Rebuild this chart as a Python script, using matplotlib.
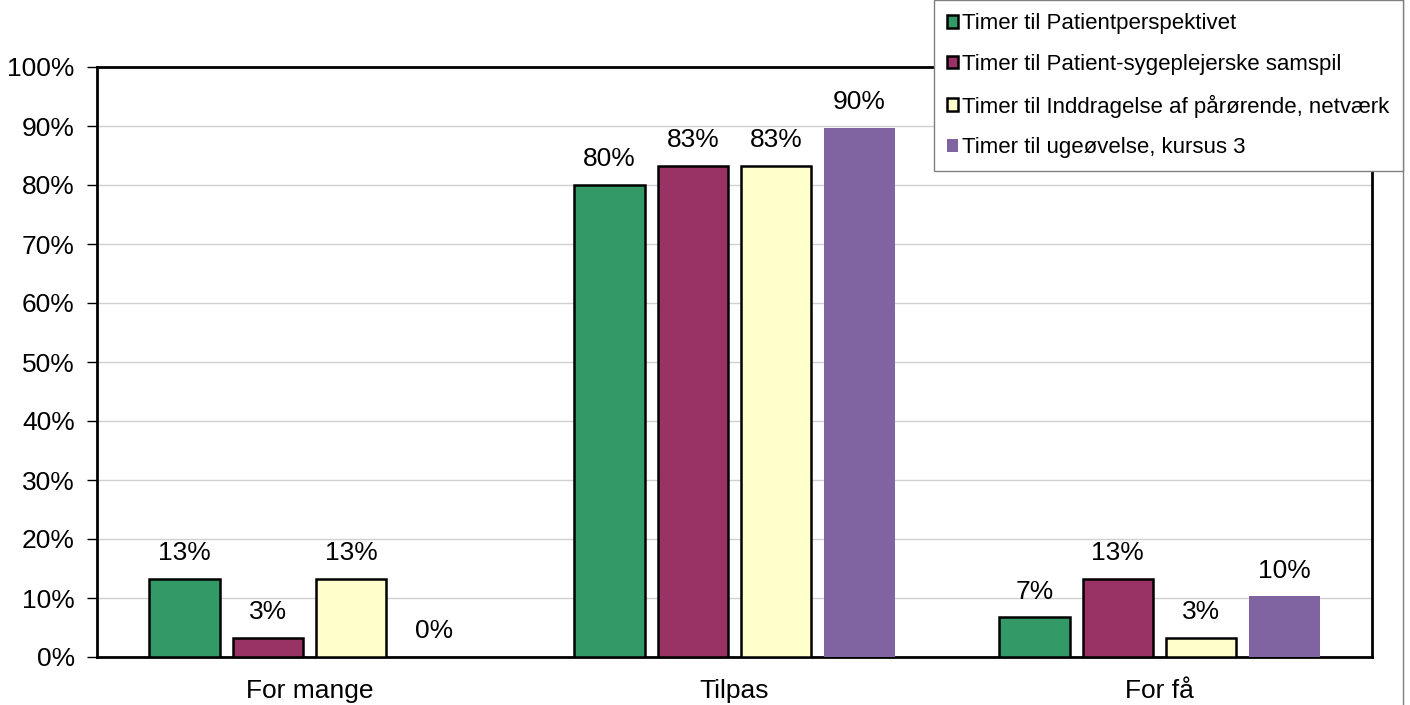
import numpy as np
import matplotlib.pyplot as plt
from matplotlib.patches import Patch
from matplotlib.lines import Line2D

plt.rcParams['font.family'] = ['Liberation Sans', 'DejaVu Sans']

categories = ["For mange", "Tilpas", "For få"]
series_names = [
    "Timer til Patientperspektivet",
    "Timer til Patient-sygeplejerske samspil",
    "Timer til Inddragelse af pårørende, netværk",
    "Timer til ugeøvelse, kursus 3",
]
patientperspektivet = [13.3, 80.0, 6.7]
samspil = [3.3, 83.3, 13.3]
paarorende = [13.3, 83.3, 3.3]
ugeovelse = [0.0, 89.7, 10.3]
labels = [
    ["13%", "80%", "7%"],
    ["3%", "83%", "13%"],
    ["13%", "83%", "3%"],
    ["0%", "90%", "10%"],
]
colors = ["#339966", "#993366", "#FFFFCC", "#8064A2"]
edges = ["black", "black", "black", "none"]

values = [patientperspektivet, samspil, paarorende, ugeovelse]

fig = plt.figure(figsize=(14.1, 7.05), dpi=100)
ax = fig.add_axes([97 / 1410, 48 / 705, 1275 / 1410, 590 / 705])

x = np.arange(len(categories))
step = 0.196
width = 0.165
for i, (vals, col, ec) in enumerate(zip(values, colors, edges)):
    pos = x + (i - 1.5) * step
    ax.bar(pos, vals, width=width, color=col, edgecolor=ec, linewidth=1.8, zorder=3)
    for p, v, lab in zip(pos, vals, labels[i]):
        ax.text(p, v + 2.3, lab, ha='center', va='bottom', fontsize=19)

ax.set_xlim(-0.5, 2.5)
ax.set_ylim(0, 100)
ax.set_yticks(np.arange(0, 101, 10))
ax.set_yticklabels([f"{t}%" for t in range(0, 101, 10)], fontsize=19)
ax.set_xticks(x)
ax.set_xticklabels(categories, fontsize=19)
ax.tick_params(axis='x', length=0, pad=16)
ax.tick_params(axis='y', length=7, width=1, pad=9)
ax.yaxis.grid(True, color='#d0d0d0', linewidth=1, zorder=0)
ax.set_axisbelow(True)
for s in ax.spines.values():
    s.set_linewidth(2)
    s.set_color('black')

handles = [Patch(facecolor=c, edgecolor=e, linewidth=1.8) for c, e in zip(colors, edges)]
leg = fig.legend(handles, series_names, loc='upper right',
                 bbox_to_anchor=(1403 / 1410, 1.0),
                 fontsize=16, frameon=True, fancybox=False, framealpha=1,
                 handlelength=0.5, handleheight=0.5, handletextpad=0.2,
                 labelspacing=0.88, borderpad=0.6, borderaxespad=0)
leg.get_frame().set_edgecolor('#808080')
leg.get_frame().set_linewidth(1)
leg.set_zorder(10)

fig.add_artist(Line2D([1403 / 1410, 1403 / 1410], [0, 1], color='#808080', linewidth=1,
                      transform=fig.transFigure))

fig.savefig("out.png", dpi=100)
